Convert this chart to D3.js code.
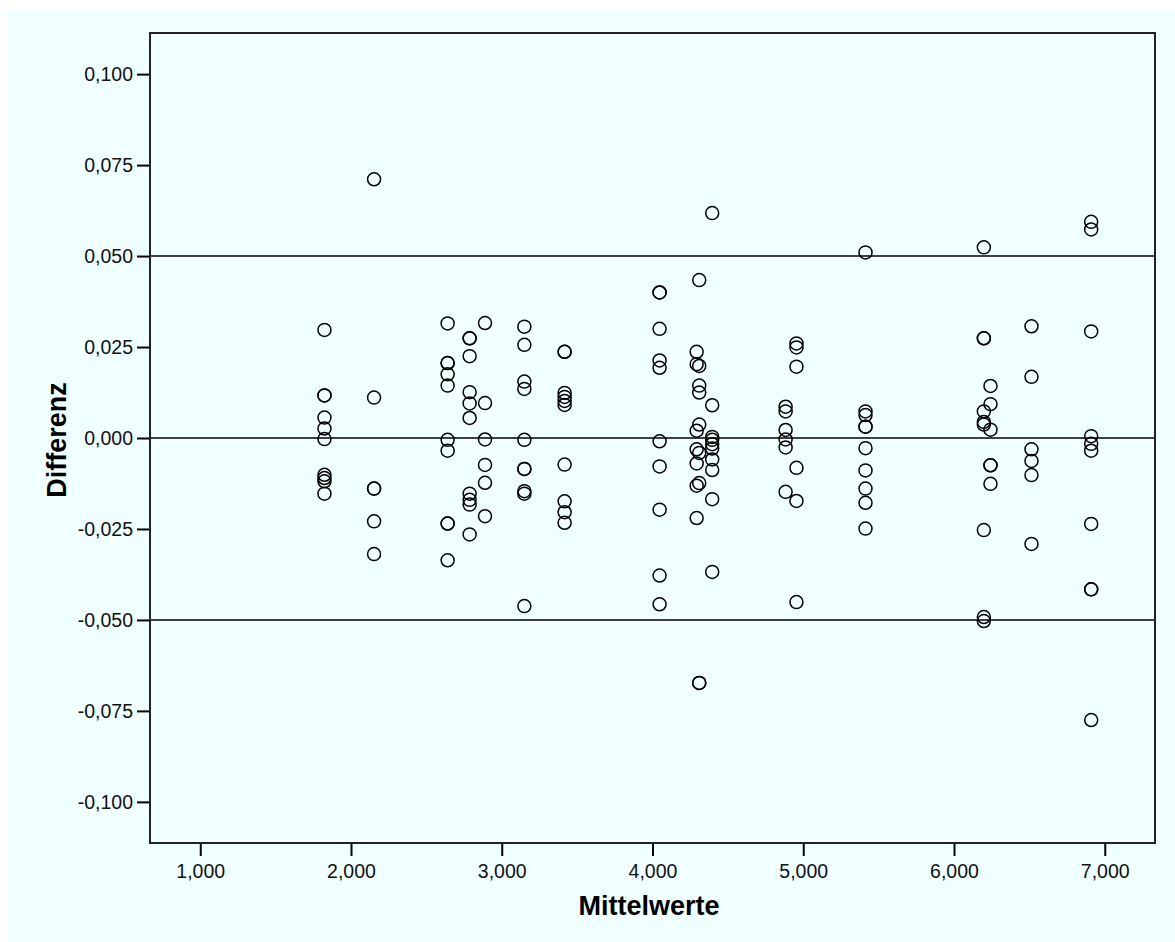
<!DOCTYPE html>
<html lang="de">
<head>
<meta charset="UTF-8">
<title>Differenz vs. Mittelwerte</title>
<script src="https://d3js.org/d3.v7.min.js"></script>
<style>
    body { margin: 0; background: #fff; }
    svg text { font-family: "Liberation Sans", Arial, sans-serif; fill: #000; }
</style>
</head>
<body>
<div id="chart"></div>
<script>
// one entry per column of points: the mean (x) and the differences measured there (y)
const mittelwerte = [1.824, 2.153, 2.641, 2.787, 2.889, 3.150, 3.417, 4.047, 4.293, 4.310,
                     4.396, 4.883, 4.955, 5.413, 6.198, 6.242, 6.514, 6.910];
const differenzen = [
    [0.0297, 0.0117, 0.0117, 0.0056, 0.0026, -0.0003, -0.0101, -0.0110, -0.0119, -0.0153],
    [0.0711, 0.0111, -0.0139, -0.0139, -0.0229, -0.0319],
    [0.0315, 0.0206, 0.0206, 0.0175, 0.0144, -0.0005, -0.0035, -0.0235, -0.0235, -0.0336],
    [0.0274, 0.0274, 0.0225, 0.0126, 0.0095, 0.0055, -0.0153, -0.0170, -0.0183, -0.0265],
    [0.0316, 0.0096, -0.0004, -0.0074, -0.0123, -0.0215],
    [0.0306, 0.0256, 0.0155, 0.0135, -0.0005, -0.0085, -0.0085, -0.0146, -0.0153, -0.0462],
    [0.0237, 0.0237, 0.0124, 0.0113, 0.0102, 0.0091, -0.0073, -0.0174, -0.0204, -0.0233],
    [0.0400, 0.0400, 0.0300, 0.0213, 0.0193, -0.0009, -0.0078, -0.0197, -0.0378, -0.0457],
    [0.0237, 0.0203, 0.0020, -0.0031, -0.0070, -0.0131, -0.0220],
    [0.0434, 0.0198, 0.0144, 0.0125, 0.0037, -0.0041, -0.0124, -0.0673, -0.0673],
    [0.0618, 0.0090, 0.0003, -0.0005, -0.0017, -0.0029, -0.0059, -0.0088, -0.0168, -0.0368],
    [0.0086, 0.0073, 0.0022, -0.0004, -0.0026, -0.0148],
    [0.0260, 0.0249, 0.0196, -0.0082, -0.0173, -0.0451],
    [0.0510, 0.0073, 0.0063, 0.0031, 0.0031, -0.0028, -0.0089, -0.0139, -0.0178, -0.0249],
    [0.0524, 0.0274, 0.0274, 0.0073, 0.0044, 0.0037, -0.0253, -0.0492, -0.0503],
    [0.0143, 0.0093, 0.0023, -0.0075, -0.0075, -0.0126],
    [0.0307, 0.0168, -0.0031, -0.0063, -0.0102, -0.0291],
    [0.0594, 0.0573, 0.0293, 0.0005, -0.0016, -0.0035, -0.0236, -0.0416, -0.0416, -0.0775]
];
const refLines = [0.05, 0, -0.05];
const xTicks = [1, 2, 3, 4, 5, 6, 7];
const yTicks = [-0.1, -0.075, -0.05, -0.025, 0, 0.025, 0.05, 0.075, 0.1];

const width = 1175, height = 942;
const margin = {top: 33, right: 20, bottom: 99, left: 150};
const innerW = width - margin.left - margin.right;
const innerH = height - margin.top - margin.bottom;

// German number style: decimal comma, plain hyphen as minus
const de = d3.formatLocale({decimal: ",", thousands: ".", grouping: [3], currency: ["", " €"], minus: "-"});
const fmt = de.format(".3f");

const points = [];
mittelwerte.forEach((m, i) => differenzen[i].forEach(d => points.push({x: m, y: d})));

const svg = d3.select("#chart").append("svg")
    .attr("width", width)
    .attr("height", height);

svg.append("rect")
    .attr("x", 8).attr("y", 10)
    .attr("width", width - 8).attr("height", height - 10)
    .attr("fill", "#f0ffff");

const g = svg.append("g")
    .attr("transform", `translate(${margin.left},${margin.top})`);

const x = d3.scaleLinear().domain([2 / 3, 22 / 3]).range([0, innerW]);
const y = d3.scaleLinear().domain([-0.1113, 0.1113]).range([innerH, 0]);

const xAxis = g.append("g")
    .attr("transform", `translate(0,${innerH})`)
    .call(d3.axisBottom(x).tickValues(xTicks).tickFormat(fmt).tickSize(13).tickPadding(8));
const yAxis = g.append("g")
    .call(d3.axisLeft(y).tickValues(yTicks).tickFormat(fmt).tickSize(13).tickPadding(4));

[xAxis, yAxis].forEach(a => {
    a.select(".domain").remove();
    a.selectAll(".tick line").attr("stroke", "#000").attr("stroke-width", 2);
    a.selectAll(".tick text").style("font-size", "19.5px").style("fill", "#111");
});

g.selectAll(".ref")
    .data(refLines)
    .join("line")
    .attr("class", "ref")
    .attr("x1", 0).attr("x2", innerW)
    .attr("y1", d => y(d)).attr("y2", d => y(d))
    .attr("stroke", "#000")
    .attr("stroke-width", 1.5);

g.selectAll(".pt")
    .data(points)
    .join("circle")
    .attr("class", "pt")
    .attr("cx", d => x(d.x))
    .attr("cy", d => y(d.y))
    .attr("r", 6.5)
    .attr("fill", "none")
    .attr("stroke", "#000")
    .attr("stroke-width", 1.5);

g.append("rect")
    .attr("width", innerW)
    .attr("height", innerH)
    .attr("fill", "none")
    .attr("stroke", "#222")
    .attr("stroke-width", 2);

svg.append("text")
    .attr("x", 649)
    .attr("y", 915)
    .attr("text-anchor", "middle")
    .style("font-size", "27px")
    .style("font-weight", "bold")
    .text("Mittelwerte");

svg.append("text")
    .attr("transform", "translate(66,440) rotate(-90)")
    .attr("text-anchor", "middle")
    .style("font-size", "27px")
    .style("font-weight", "bold")
    .text("Differenz");
</script>
</body>
</html>
